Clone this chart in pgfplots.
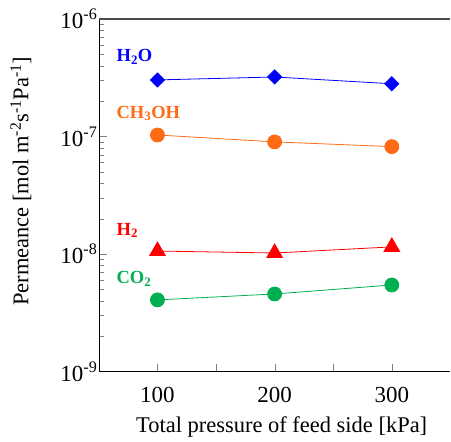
\documentclass[border=0pt]{standalone}
\usepackage{pgfplots}
\pgfplotsset{compat=1.18}
\usepackage{fontspec}
\setmainfont{Liberation Serif}
\definecolor{cH2O}{HTML}{0000FF}
\definecolor{cMeOH}{HTML}{FF6A14}
\definecolor{cH2}{HTML}{FF0000}
\definecolor{cCO2}{HTML}{00B050}

\begin{document}
\begin{tikzpicture}
\begin{axis}[
  name=ax,
  scale only axis,
  width=352pt, height=353pt,
  ymode=log,
  xmin=50, xmax=350,
  ymin=1e-9, ymax=1e-6,
  axis lines*=left,
  tick align=inside,
  xtick={100,150,200,250,300},
  xticklabels={100,,200,,300},
  ytick={1e-9,1e-8,1e-7,1e-6},
  yticklabels={10\textsuperscript{-9},10\textsuperscript{-8},10\textsuperscript{-7},10\textsuperscript{-6}},
  major tick length=8pt, minor tick length=5pt,
  tick label style={font=\fontsize{23}{26}\selectfont},
  xticklabel style={yshift=-12pt},
  yticklabel style={xshift=2pt},
  label style={font=\fontsize{22.5}{26}\selectfont},
  xlabel={Total pressure of feed side [kPa]},
  ylabel={Permeance [mol m\textsuperscript{-2}s\textsuperscript{-1}Pa\textsuperscript{-1}]},
  xlabel style={at={(rel axis cs:0.52,0)}, anchor=center, yshift=-56pt},
  ylabel style={at={(rel axis cs:0,0.54)}, anchor=center, yshift=78pt},
  clip=false,
  every axis plot/.append style={line width=0.8pt},
]
\addplot[cH2O, mark=square*, mark size=5pt, mark options={rotate=45}]
  coordinates {(100,3.03e-7) (200,3.21e-7) (300,2.81e-7)};
\addplot[cMeOH, mark=*, mark size=7pt]
  coordinates {(100,1.03e-7) (200,9.0e-8) (300,8.2e-8)};
\addplot[cH2, mark=triangle*, mark size=9pt]
  coordinates {(100,1.06e-8) (200,1.02e-8) (300,1.15e-8)};
\addplot[cCO2, mark=*, mark size=7pt]
  coordinates {(100,4.07e-9) (200,4.57e-9) (300,5.45e-9)};
\draw[black!70, line width=1.2pt] (rel axis cs:0,1) -- (rel axis cs:1,1);
\begin{scope}[every node/.style={anchor=base west, inner sep=0pt, font=\fontsize{18.5}{21}\selectfont\bfseries}]
\node[text=cH2O] at (axis cs:65,4.31e-7) {H\textsubscript{2}O};
\node[text=cMeOH] at (axis cs:65,1.43e-7) {CH\textsubscript{3}OH};
\node[text=cH2] at (axis cs:65,1.45e-8) {H\textsubscript{2}};
\node[text=cCO2] at (axis cs:65,5.6e-9) {CO\textsubscript{2}};
\end{scope}
\end{axis}
\path (ax.south west) ++(-99pt,-69pt) (ax.north east) ++(0,19pt);
\end{tikzpicture}
\end{document}
